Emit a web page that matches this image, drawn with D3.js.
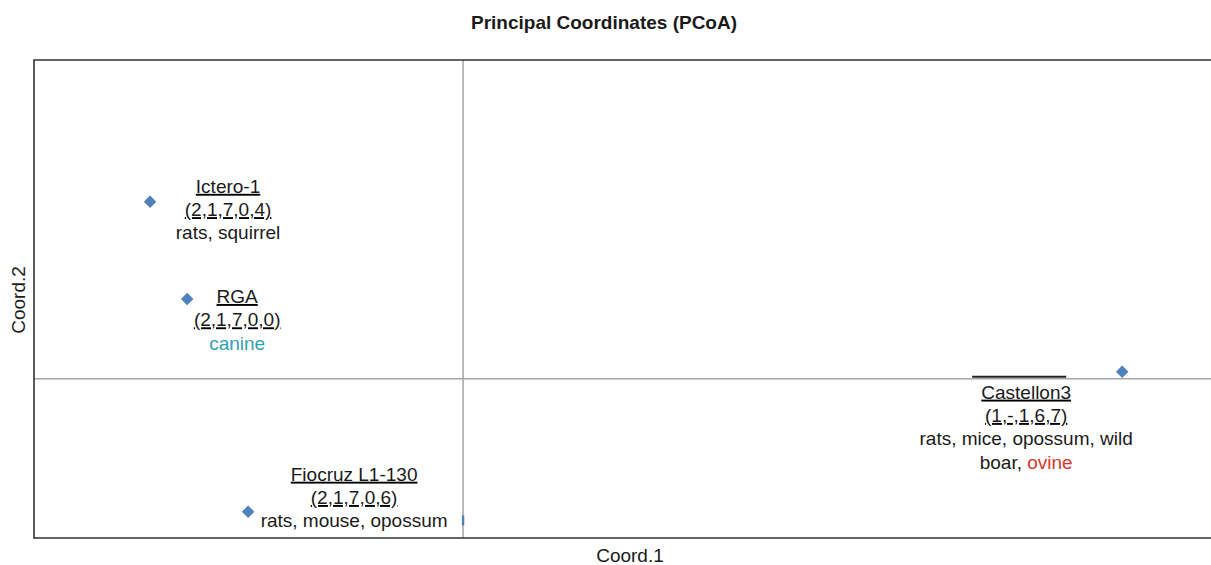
<!DOCTYPE html>
<html>
<head>
<meta charset="utf-8">
<script src="https://cdn.jsdelivr.net/npm/d3@7"></script>
<style>
  html, body { margin: 0; padding: 0; background: #fff; }
  svg { display: block; font-family: "Liberation Sans", Arial, sans-serif; }
</style>
</head>
<body>
<svg id="chart" width="1211" height="565"></svg>
<script>
// ---- data ----
const names    = ["Ictero-1", "RGA", "Fiocruz L1-130", "Castellon3"];
const profiles = ["(2,1,7,0,4)", "(2,1,7,0,0)", "(2,1,7,0,6)", "(1,-,1,6,7)"];
const coord1   = [-0.1459, -0.1286, -0.1002, 0.3072];
const coord2   = [0.111, 0.050, -0.0835, 0.0044];
const hostLines = [
  ["rats, squirrel"],
  ["canine"],
  ["rats, mouse, opossum"],
  ["rats, mice, opossum, wild", "boar, |ovine"]
];
const highlighted = { "canine": "c", "ovine": "r" };
// partial (clipped) point sitting on the vertical axis
const fragCoord1 = [0.0];
const fragCoord2 = [-0.089];

const xDomain = [-0.2, 0.35];
const yDomain = [-0.1, 0.2];
const titleText = "Principal Coordinates (PCoA)";
const xLabel = "Coord.1";
const yLabel = "Coord.2";

// ---- layout ----
const plot = { left: 34, top: 60, right: 1214, bottom: 538 };
const labelOffsets = [ {dx: 78, dy: -16}, {dx: 50, dy: -3}, {dx: 106, dy: -38}, {dx: -96, dy: 20} ];
const lineH = 23.3;
const fs = 19;
const colors = { n: "#1a1a1a", c: "#31a0b4", r: "#d8382a" };
const pointColor = "#4f81bd";

const svg = d3.select("#chart");
const x = d3.scaleLinear().domain(xDomain).range([plot.left, plot.right]);
const y = d3.scaleLinear().domain(yDomain).range([plot.bottom, plot.top]);

// title
svg.append("text").attr("x", 604).attr("y", 29).attr("text-anchor", "middle")
  .attr("font-size", fs).attr("font-weight", "bold").attr("fill", "#1a1a1a").text(titleText);
// axis titles
svg.append("text").attr("x", 630).attr("y", 561.5).attr("text-anchor", "middle")
  .attr("font-size", fs).attr("fill", "#1a1a1a").text(xLabel);
svg.append("text").attr("transform", "translate(25,300) rotate(-90)").attr("text-anchor", "middle")
  .attr("font-size", fs).attr("fill", "#1a1a1a").text(yLabel);

// zero lines
svg.append("line").attr("x1", x(0)).attr("x2", x(0)).attr("y1", plot.top).attr("y2", plot.bottom)
  .attr("stroke", "#a6a6a6").attr("stroke-width", 1.5);
svg.append("line").attr("x1", plot.left).attr("x2", plot.right).attr("y1", y(0)).attr("y2", y(0))
  .attr("stroke", "#a6a6a6").attr("stroke-width", 1.5);

// frame (left, top, bottom)
svg.append("path")
  .attr("d", `M${plot.right + 5},${plot.top}H${plot.left}V${plot.bottom}H${plot.right + 5}`)
  .attr("fill", "none").attr("stroke", "#333").attr("stroke-width", 1.6);

// fragment mark
svg.selectAll(".frag").data(fragCoord1).join("rect").attr("class", "frag")
  .attr("x", (d) => x(d) - 1.2).attr("y", (d, i) => y(fragCoord2[i]) - 5)
  .attr("width", 2.4).attr("height", 10).attr("fill", pointColor);

// points
const diamond = d3.symbol().type(d3.symbolDiamond2).size(100);
svg.selectAll(".pt").data(names).join("path").attr("class", "pt")
  .attr("d", diamond)
  .attr("transform", (d, i) => `translate(${x(coord1[i])},${y(coord2[i])})`)
  .attr("fill", pointColor);

// labels
names.forEach((nm, i) => {
  const cx = x(coord1[i]) + labelOffsets[i].dx;
  const cy = y(coord2[i]) + labelOffsets[i].dy;
  const g = svg.append("g").attr("font-size", fs).attr("text-anchor", "middle");
  const lines = [nm, profiles[i]].concat(hostLines[i]);
  lines.forEach((ln, li) => {
    const t = g.append("text").attr("x", cx).attr("y", cy + li * lineH + 7)
      .attr("text-decoration", li < 2 ? "underline" : null);
    ln.split("|").forEach(seg => {
      t.append("tspan").attr("fill", colors[highlighted[seg] || "n"]).text(seg);
    });
  });
  if (nm === "Castellon3") {
    g.append("line").attr("x1", cx - 54).attr("x2", cx + 40)
      .attr("y1", cy - 15).attr("y2", cy - 15).attr("stroke", "#222").attr("stroke-width", 2);
  }
});
</script>
</body>
</html>
